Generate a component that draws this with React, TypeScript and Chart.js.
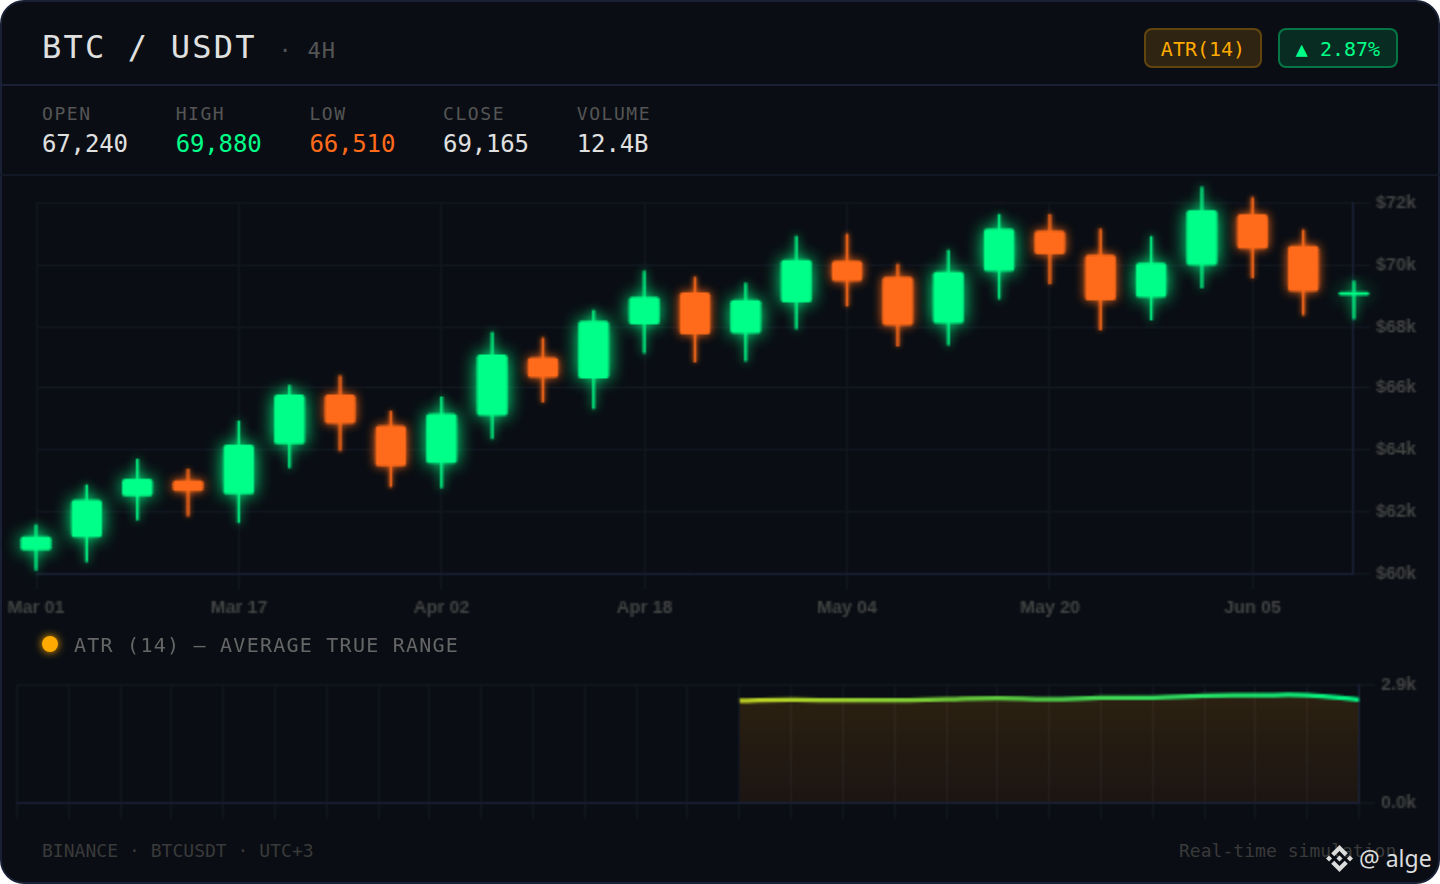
import React, { useEffect, useRef } from "react";
import { Chart, registerables } from "chart.js";

Chart.register(...registerables);

const dates = ["Mar 01","Mar 05","Mar 09","Mar 13","Mar 17","Mar 21","Mar 25","Mar 29","Apr 02","Apr 06","Apr 10","Apr 14","Apr 18","Apr 22","Apr 26","Apr 30","May 04","May 08","May 12","May 16","May 20","May 24","May 28","Jun 01","Jun 05","Jun 09","Jun 13"];
const opens = [60760,61180,62510,63000,62570,64190,65780,64780,63580,65130,66980,66330,68080,69090,67790,68790,70120,69600,68110,69800,71090,70320,68960,69990,71640,70610,69020];
const closes = [61180,62380,63060,62670,64160,65780,64870,63480,65170,67080,66360,68180,68960,67760,68860,70150,69470,68050,69770,71160,70350,68860,70060,71770,70540,69150,69120];
const highs = [61570,62870,63710,63380,64940,66100,66400,65260,65720,67820,67630,68530,69800,69600,69410,70930,71000,70020,70480,71640,71640,71160,70930,72520,72190,71130,69470];
const lows = [60110,60370,61730,61860,61640,63420,63970,62800,62770,64360,65550,65330,67140,66850,66880,67920,68660,67370,67400,68890,69380,67890,68210,69250,69570,68370,68240];
const atrValues = [null,null,null,null,null,null,null,null,null,null,null,null,null,null,2507,2532,2519,2519,2544,2568,2544,2581,2581,2635,2642,2642,2532];
const stats = [
  { label: "OPEN", value: "67,240", color: "#e0e0e0" },
  { label: "HIGH", value: "69,880", color: "#00ff88" },
  { label: "LOW", value: "66,510", color: "#ff6b1a" },
  { label: "CLOSE", value: "69,165", color: "#e0e0e0" },
  { label: "VOLUME", value: "12.4B", color: "#e0e0e0" },
];

const GREEN = "#00ff88";
const ORANGE = "#ff6b1a";
const MONO = "'DejaVu Sans Mono', monospace";
const TICK_FONT = { family: "'Liberation Sans', Arial, sans-serif", size: 18, weight: "bold" };
const TICK_COLOR = "#444444";
const GRID = "#12161f";
const AXIS = "#1a2035";

const glow = {
  id: "glow",
  beforeDatasetDraw(chart: any, args: any) {
    const ds = chart.data.datasets[args.index];
    if (!ds.glow) return;
    chart.ctx.save();
    chart.ctx.shadowColor = ds.glow;
    chart.ctx.shadowBlur = ds.glowBlur;
  },
  afterDatasetDraw(chart: any, args: any) {
    const ds = chart.data.datasets[args.index];
    if (!ds.glow) return;
    chart.ctx.restore();
  },
};

const isUp = (i: number) => closes[i] >= opens[i];
const pick = (up: boolean, a: number[], b: number[]) =>
  dates.map((_, i) => (isUp(i) === up ? [a[i], b[i]] : null));

function App() {
  const mainRef = useRef<HTMLCanvasElement>(null);
  const atrRef = useRef<HTMLCanvasElement>(null);

  useEffect(() => {
    const barBase = { type: "bar", grouped: false, clip: false, borderSkipped: false };
    const main = new Chart(mainRef.current!, {
      type: "bar",
      plugins: [glow],
      data: {
        labels: dates,
        datasets: [
          { ...barBase, data: pick(true, lows, highs), backgroundColor: GREEN, barThickness: 2, glow: GREEN, glowBlur: 5, order: 4 },
          { ...barBase, data: pick(false, lows, highs), backgroundColor: ORANGE, barThickness: 2, glow: ORANGE, glowBlur: 3, order: 3 },
          { ...barBase, data: pick(true, opens, closes), backgroundColor: GREEN, barThickness: 30, borderRadius: 3, glow: GREEN, glowBlur: 8, order: 2 },
          { ...barBase, data: pick(false, opens, closes), backgroundColor: ORANGE, barThickness: 30, borderRadius: 3, glow: ORANGE, glowBlur: 5, order: 1 },
        ] as any,
      },
      options: {
        animation: false,
        responsive: false,
        devicePixelRatio: 0.5,
        layout: { padding: { left: 36, right: 18, top: 27, bottom: 0 } },
        plugins: { legend: { display: false }, tooltip: { enabled: false } },
        scales: {
          x: {
            offset: false,
            grid: { color: GRID, lineWidth: 2, tickLength: 16, offset: false },
            border: { color: AXIS, width: 2 },
            afterBuildTicks: (s: any) => { s.ticks = s.ticks.filter((t: any) => t.value % 4 === 0); },
            ticks: { color: TICK_COLOR, font: TICK_FONT, padding: 7.5, maxRotation: 0, autoSkip: false },
          },
          y: {
            position: "right",
            min: 60000,
            max: 72000,
            grid: { color: GRID, lineWidth: 2, tickLength: 16 },
            border: { color: AXIS, width: 2 },
            ticks: { color: TICK_COLOR, font: TICK_FONT, padding: 6, stepSize: 2000, callback: (v: any) => `$${v / 1000}k` },
          },
        },
      } as any,
    });

    const atr = new Chart(atrRef.current!, {
      type: "line",
      data: {
        labels: dates,
        datasets: [
          {
            data: atrValues,
            tension: 0.4,
            pointRadius: 0,
            borderWidth: 4.5,
            clip: false,
            fill: "origin",
            borderColor: (c: any) => {
              const a = c.chart.chartArea;
              if (!a) return "#ffaa00";
              const g = c.chart.ctx.createLinearGradient(a.left, 0, a.right, 0);
              g.addColorStop(0, "#ffaa00");
              g.addColorStop(0.538, "#c2d324");
              g.addColorStop(0.733, "#5cc93f");
              g.addColorStop(1, "#00f585");
              return g;
            },
            backgroundColor: (c: any) => {
              const a = c.chart.chartArea;
              if (!a) return "rgba(255,170,0,0.15)";
              const g = c.chart.ctx.createLinearGradient(0, a.top, 0, a.bottom);
              g.addColorStop(0, "rgba(255,150,0,0.15)");
              g.addColorStop(1, "rgba(255,130,0,0.07)");
              return g;
            },
          },
        ] as any,
      },
      options: {
        animation: false,
        responsive: false,
        devicePixelRatio: 0.5,
        layout: { padding: { left: 17, right: 18, top: 15, bottom: 11 } },
        plugins: { legend: { display: false }, tooltip: { enabled: false } },
        scales: {
          x: {
            grid: { color: GRID, lineWidth: 2, tickLength: 16 },
            border: { color: AXIS, width: 2 },
            ticks: { display: false, autoSkip: false },
          },
          y: {
            position: "right",
            min: 0,
            max: 2900,
            grid: { color: GRID, lineWidth: 2, tickLength: 16 },
            border: { color: AXIS, width: 2 },
            ticks: { color: TICK_COLOR, font: TICK_FONT, padding: 6, stepSize: 2900, callback: (v: any) => `${(v / 1000).toFixed(1)}k` },
          },
        },
      } as any,
    });

    return () => {
      main.destroy();
      atr.destroy();
    };
  }, []);

  const abs = (o: any) => ({ position: "absolute", whiteSpace: "pre", ...o });

  return (
    <div style={{ width: 1440, height: 884, position: "relative", overflow: "hidden", background: "#fff", fontFamily: MONO }}>
      <style>{`html,body{margin:0;padding:0;background:#fff}`}</style>
      <div style={{ position: "absolute", inset: 0, boxSizing: "border-box", background: "#0a0e14", border: "2px solid #1a2035", borderRadius: 24 }} />
      <div style={abs({ left: 0, right: 0, top: 84, height: 2, background: "#1a2035" })} />
      <div style={abs({ left: 0, right: 0, top: 174, height: 2, background: "#131826" })} />

      <div style={abs({ left: 42, top: 27, fontSize: 32, lineHeight: "40px", letterSpacing: 2.2, color: "#e0e0e0" })}>BTC / USDT</div>
      <div style={abs({ left: 278.5, top: 37, fontSize: 22, lineHeight: "28px", letterSpacing: 1.2, color: "#555" })}>· 4H</div>

      <div style={abs({ left: 1144, top: 28, width: 118, height: 40, boxSizing: "border-box", borderRadius: 8, border: "2px solid rgba(255,170,0,0.25)", background: "rgba(255,170,0,0.15)", color: "#ffaa00", fontSize: 20, lineHeight: "38px", textAlign: "center" })}>ATR(14)</div>
      <div style={abs({ left: 1278, top: 28, width: 120, height: 40, boxSizing: "border-box", borderRadius: 8, border: "2px solid rgba(0,255,136,0.35)", background: "rgba(0,255,136,0.12)", color: "#00ff88", fontSize: 20, lineHeight: "38px", textAlign: "center" })}>▲ 2.87%</div>

      {stats.map((s, i) => (
        <React.Fragment key={s.label}>
          <div style={abs({ left: 42 + i * 133.7, top: 102, fontSize: 18, lineHeight: "24px", letterSpacing: 1.55, color: "#555" })}>{s.label}</div>
          <div style={abs({ left: 42 + i * 133.7, top: 128, fontSize: 24, lineHeight: "32px", letterSpacing: -0.15, color: s.color })}>{s.value}</div>
        </React.Fragment>
      ))}

      <canvas ref={mainRef} width={1440} height={449} style={{ position: "absolute", left: 0, top: 176, width: 1440, height: 449 }} />

      <div style={abs({ left: 42, top: 636, width: 16, height: 16, borderRadius: 8, background: "#ffaa00", boxShadow: "0 0 8px #ffaa00" })} />
      <div style={abs({ left: 74, top: 632, fontSize: 20, lineHeight: "26px", letterSpacing: 1.24, color: "#666" })}>ATR (14) — AVERAGE TRUE RANGE</div>

      <canvas ref={atrRef} width={1440} height={162} style={{ position: "absolute", left: 0, top: 668, width: 1440, height: 162 }} />

      <div style={abs({ left: 42, top: 839, fontSize: 18, lineHeight: "24px", letterSpacing: 0.03, color: "#3a3a3a" })}>BINANCE · BTCUSDT · UTC+3</div>
      <div style={abs({ left: 1179, top: 839, fontSize: 18, lineHeight: "24px", letterSpacing: 0.03, color: "#3a3a3a" })}>Real-time simulation</div>

      <svg viewBox="0 0 24 24" width="27" height="27" style={{ position: "absolute", left: 1326, top: 845 }}>
        <path fill="#dcdcdc" d="M16.624 13.9202l2.7175 2.7154-7.353 7.353-7.353-7.352 2.7175-2.7164 4.6355 4.6595 4.6356-4.6595zm4.6366-4.6366L24 12l-2.7154 2.7164L18.5682 12l2.6924-2.7164zm-9.272.001l2.7163 2.6914-2.7164 2.7174v-.001L9.2721 12l2.7164-2.7154zm-9.2722-.001L5.4088 12l-2.6914 2.6924L0 12l2.7164-2.7164zM11.9885.0115l7.353 7.329-2.7174 2.7154-4.6356-4.6356-4.6355 4.6595-2.7174-2.7154 7.353-7.353z" />
      </svg>
      <div style={abs({ left: 1359, top: 842, fontFamily: "'Noto Sans', sans-serif", fontSize: 23, lineHeight: "32px", color: "#dcdcdc" })}>@ alge</div>
    </div>
  );
}

export default App;
